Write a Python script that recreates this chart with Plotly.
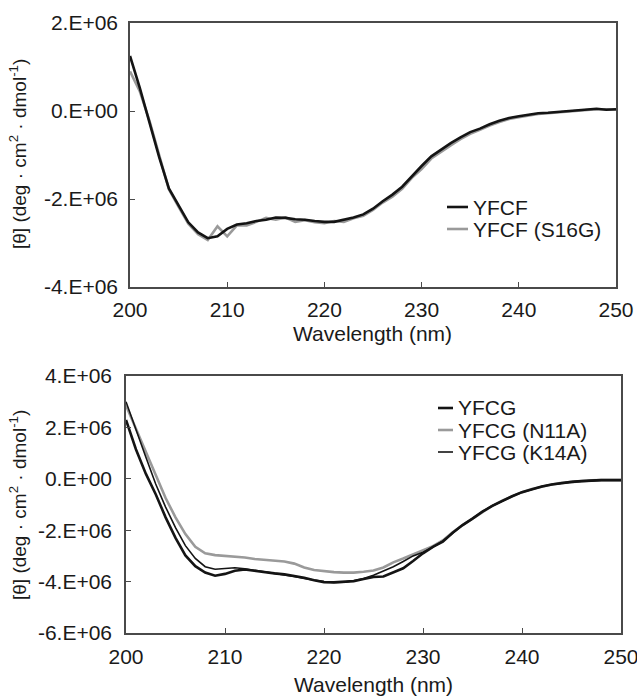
import plotly.graph_objects as go

# ---------------- data (values in units of 1e6 deg·cm²·dmol⁻¹) ----------------
wavelength = list(range(200, 251))

yfcf = [1.25, 0.53, -0.26, -1.05, -1.76, -2.15, -2.53, -2.76, -2.89, -2.85,
        -2.68, -2.58, -2.55, -2.50, -2.47, -2.42, -2.43, -2.46, -2.47, -2.50,
        -2.52, -2.52, -2.47, -2.42, -2.35, -2.22, -2.05, -1.90, -1.72, -1.48,
        -1.25, -1.03, -0.87, -0.73, -0.60, -0.48, -0.40, -0.30, -0.22, -0.16,
        -0.12, -0.08, -0.05, -0.04, -0.02, 0.00, 0.01, 0.04, 0.05, 0.03, 0.04]

yfcf_s16g = [0.90, 0.45, -0.22, -1.02, -1.78, -2.18, -2.56, -2.80, -2.93, -2.62,
             -2.85, -2.60, -2.60, -2.52, -2.43, -2.47, -2.42, -2.52, -2.48, -2.53,
             -2.55, -2.50, -2.52, -2.44, -2.38, -2.25, -2.08, -1.95, -1.77, -1.52,
             -1.32, -1.08, -0.92, -0.78, -0.64, -0.52, -0.43, -0.33, -0.25, -0.18,
             -0.14, -0.10, -0.07, -0.05, -0.03, -0.01, 0.00, 0.03, 0.04, 0.04, 0.03]

yfcg = [2.29, 1.15, 0.20, -0.60, -1.50, -2.30, -2.98, -3.40, -3.65, -3.77,
        -3.70, -3.58, -3.53, -3.58, -3.65, -3.68, -3.72, -3.78, -3.85, -3.95,
        -4.02, -4.03, -4.00, -3.98, -3.90, -3.82, -3.80, -3.65, -3.48, -3.20,
        -2.90, -2.65, -2.45, -2.10, -1.80, -1.55, -1.28, -1.05, -0.85, -0.68,
        -0.52, -0.40, -0.30, -0.22, -0.16, -0.12, -0.09, -0.06, -0.05, -0.05, -0.05]

yfcg_n11a = [2.85, 1.95, 1.00, 0.10, -0.75, -1.50, -2.15, -2.65, -2.90, -2.97,
             -3.00, -3.03, -3.06, -3.12, -3.16, -3.20, -3.22, -3.30, -3.45, -3.55,
             -3.60, -3.63, -3.65, -3.65, -3.62, -3.57, -3.45, -3.25, -3.10, -2.95,
             -2.80, -2.62, -2.40, -2.08, -1.80, -1.55, -1.28, -1.05, -0.85, -0.68,
             -0.52, -0.40, -0.30, -0.22, -0.16, -0.12, -0.09, -0.06, -0.05, -0.05, -0.05]

yfcg_k14a = [3.00, 1.90, 0.85, -0.20, -1.10, -1.90, -2.60, -3.10, -3.42, -3.52,
             -3.50, -3.46, -3.50, -3.57, -3.62, -3.68, -3.73, -3.80, -3.88, -3.95,
             -4.00, -4.03, -4.02, -3.97, -3.88, -3.75, -3.60, -3.42, -3.22, -3.00,
             -2.86, -2.66, -2.42, -2.10, -1.80, -1.55, -1.28, -1.05, -0.85, -0.68,
             -0.52, -0.40, -0.30, -0.22, -0.16, -0.12, -0.09, -0.06, -0.05, -0.05, -0.05]

scale = 1e6
x_ticks = [200, 210, 220, 230, 240, 250]
top_y_ticks = [2e6, 0, -2e6, -4e6]
top_y_text = ["2.E+06", "0.E+00", "-2.E+06", "-4.E+06"]
bot_y_ticks = [4e6, 2e6, 0, -2e6, -4e6, -6e6]
bot_y_text = ["4.E+06", "2.E+06", "0.E+00", "-2.E+06", "-4.E+06", "-6.E+06"]

top_names = ["YFCF", "YFCF (S16G)"]
bot_names = ["YFCG", "YFCG (N11A)", "YFCG (K14A)"]

# ---------------- figure ----------------
W, H = 637, 696
FONT = "Liberation Sans, Arial, Helvetica, sans-serif"
FS = 21
BLACK = "#141414"
GRAY = "#9a9a9a"
AX = "#4a4a4a"
TXT = "#1a1a1a"

fig = go.Figure()

def sc(v):
    return [a * scale for a in v]

fig.add_trace(go.Scatter(x=wavelength, y=sc(yfcf_s16g), mode="lines", name=top_names[1],
                         line=dict(color=GRAY, width=2.6), xaxis="x", yaxis="y"))
fig.add_trace(go.Scatter(x=wavelength, y=sc(yfcf), mode="lines", name=top_names[0],
                         line=dict(color=BLACK, width=2.6), xaxis="x", yaxis="y"))

fig.add_trace(go.Scatter(x=wavelength, y=sc(yfcg_n11a), mode="lines", name=bot_names[1],
                         line=dict(color=GRAY, width=2.6), xaxis="x2", yaxis="y2"))
fig.add_trace(go.Scatter(x=wavelength, y=sc(yfcg), mode="lines", name=bot_names[0],
                         line=dict(color=BLACK, width=2.6), xaxis="x2", yaxis="y2"))
fig.add_trace(go.Scatter(x=wavelength, y=sc(yfcg_k14a), mode="lines", name=bot_names[2],
                         line=dict(color=BLACK, width=1.6), xaxis="x2", yaxis="y2"))

axis_common = dict(showline=True, linecolor=AX, linewidth=1.5, mirror=True,
                   ticks="inside", ticklen=5, tickwidth=1.2, tickcolor=AX,
                   showgrid=False, zeroline=False, automargin=False,
                   ticklabeloverflow="allow",
                   tickfont=dict(family=FONT, size=FS, color=TXT))

fig.update_layout(
    template="none",
    width=W, height=H,
    margin=dict(l=0, r=0, t=0, b=0, autoexpand=False),
    paper_bgcolor="white", plot_bgcolor="white",
    font=dict(family=FONT, size=FS, color=TXT),
    showlegend=False,
    xaxis=dict(domain=[130 / W, 616 / W], range=[200, 250], tickvals=x_ticks,
               anchor="y", ticklabelstandoff=3, **axis_common),
    yaxis=dict(domain=[1 - 287 / H, 1 - 23 / H], range=[-4e6, 2e6],
               tickvals=top_y_ticks, ticktext=top_y_text, anchor="x",
               ticklabelstandoff=6, **axis_common),
    xaxis2=dict(domain=[126 / W, 621 / W], range=[200, 250], tickvals=x_ticks,
                anchor="y2", ticklabelstandoff=4, **axis_common),
    yaxis2=dict(domain=[1 - 633 / H, 1 - 376 / H], range=[-6e6, 4e6],
                tickvals=bot_y_ticks, ticktext=bot_y_text, anchor="x2",
                ticklabelstandoff=8, **axis_common),
)

ytitle = "[θ] (deg · cm<sup>2</sup> · dmol<sup>-1</sup>)"
annotations = [
    dict(text="Wavelength (nm)", x=(130 + 616) / 2 / W, y=1 - 334 / H,
         xref="paper", yref="paper", showarrow=False, xanchor="center", yanchor="middle",
         font=dict(family=FONT, size=FS, color=TXT)),
    dict(text="Wavelength (nm)", x=(126 + 621) / 2 / W, y=1 - 684 / H,
         xref="paper", yref="paper", showarrow=False, xanchor="center", yanchor="middle",
         font=dict(family=FONT, size=FS, color=TXT)),
    dict(text=ytitle, x=18 / W, y=1 - 154 / H, textangle=-90,
         xref="paper", yref="paper", showarrow=False, xanchor="center", yanchor="middle",
         font=dict(family=FONT, size=19, color=TXT)),
    dict(text=ytitle, x=18 / W, y=1 - 505 / H, textangle=-90,
         xref="paper", yref="paper", showarrow=False, xanchor="center", yanchor="middle",
         font=dict(family=FONT, size=19, color=TXT)),
]

# manual legends (compact rows like the original)
shapes = []
top_leg = [(top_names[0], BLACK, 2.6), (top_names[1], GRAY, 2.6)]
for i, (nm, col, w) in enumerate(top_leg):
    yy = 1 - (207 + 22 * i) / H
    shapes.append(dict(type="line", xref="paper", yref="paper",
                       x0=447 / W, x1=468 / W, y0=yy, y1=yy,
                       line=dict(color=col, width=w)))
    annotations.append(dict(text=nm, x=471 / W, y=yy, xref="paper", yref="paper",
                            showarrow=False, xanchor="left", yanchor="middle",
                            font=dict(family=FONT, size=FS, color=TXT)))

bot_leg = [(bot_names[0], BLACK, 2.6), (bot_names[1], GRAY, 2.6), (bot_names[2], BLACK, 1.6)]
for i, (nm, col, w) in enumerate(bot_leg):
    yy = 1 - (408 + 22 * i) / H
    shapes.append(dict(type="line", xref="paper", yref="paper",
                       x0=438 / W, x1=453 / W, y0=yy, y1=yy,
                       line=dict(color=col, width=w)))
    annotations.append(dict(text=nm, x=456 / W, y=yy, xref="paper", yref="paper",
                            showarrow=False, xanchor="left", yanchor="middle",
                            font=dict(family=FONT, size=FS, color=TXT)))

fig.update_layout(annotations=annotations, shapes=shapes)

fig.write_html("out.html",
               config={"displayModeBar": False},
               post_script="document.body.style.margin='0px';"
                           "document.body.style.overflow='hidden';")
